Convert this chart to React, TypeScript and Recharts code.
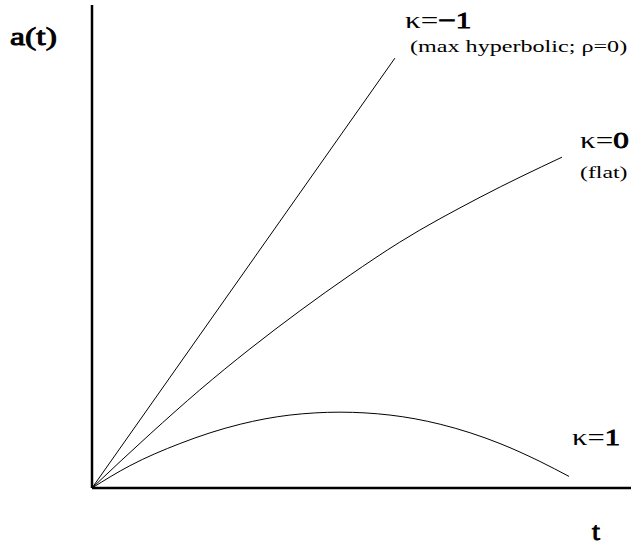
import { LineChart, Line, XAxis, YAxis, ReferenceLine } from "recharts";

// scale factor a(t) against time t for the three curvature cases
const openT = [0, 5.62];
const openA = [0, 8.9];

const flatT = [0, 1.08, 2.0, 2.93, 3.86, 4.79, 5.71, 7.2, 8.72];
const flatA = [0, 1.12, 2.03, 2.88, 3.67, 4.41, 5.09, 6.02, 6.85];

const closedT = [0, 0.7, 1.63, 2.75, 3.67, 4.6, 5.53, 6.46, 7.57, 8.31, 8.85];
const closedA = [0, 0.46, 0.92, 1.32, 1.51, 1.57, 1.51, 1.32, 0.92, 0.55, 0.24];

const toRows = (ts: number[], as: number[]) => ts.map((t, i) => ({ t, a: as[i] }));

const W = 631;
const H = 545;
const FONT = "Liberation Serif";

// heavy glyphs: regular face thickened with a stroke
const heavy = { stroke: "#000", strokeWidth: 0.9 };

// wide serif label, anchored at its baseline start and stretched sideways by sx
function Tag({ x, y, size, sx, children }: { x: number; y: number; size: number; sx: number; children: React.ReactNode }) {
  return (
    <text transform={`translate(${x},${y}) scale(${sx},1)`} fontFamily={FONT} fontSize={size} fill="#000">
      {children}
    </text>
  );
}

export default function App() {
  return (
    <div style={{ position: "absolute", left: 0, top: 0, width: W, height: H, background: "#fff" }}>
      <LineChart width={W} height={H} margin={{ top: 5, right: 0, bottom: 57, left: 92 }}>
        <XAxis type="number" dataKey="t" domain={[0, 10]} hide allowDataOverflow />
        <YAxis type="number" domain={[0, 10]} hide allowDataOverflow />
        <ReferenceLine x={0} stroke="#000" strokeWidth={2.5} />
        <ReferenceLine y={0} stroke="#000" strokeWidth={2.5} />
        <Line
          data={toRows(openT, openA)}
          dataKey="a"
          type="linear"
          stroke="#000"
          strokeWidth={1}
          dot={false}
          isAnimationActive={false}
        />
        <Line
          data={toRows(flatT, flatA)}
          dataKey="a"
          type="monotone"
          stroke="#000"
          strokeWidth={1}
          dot={false}
          isAnimationActive={false}
        />
        <Line
          data={toRows(closedT, closedA)}
          dataKey="a"
          type="monotone"
          stroke="#000"
          strokeWidth={1}
          dot={false}
          isAnimationActive={false}
        />
      </LineChart>
      <svg width={W} height={H} style={{ position: "absolute", left: 0, top: 0, pointerEvents: "none" }}>
        <Tag x={10} y={45} size={26} sx={1.3}>
          <tspan {...heavy}>a(t)</tspan>
        </Tag>
        <Tag x={405} y={28} size={23} sx={1.35}>
          κ=<tspan {...heavy}>−1</tspan>
        </Tag>
        <Tag x={410} y={52} size={17} sx={1.42}>
          (max hyperbolic; ρ=0)
        </Tag>
        <Tag x={580} y={148} size={23} sx={1.35}>
          κ=<tspan {...heavy}>0</tspan>
        </Tag>
        <Tag x={580} y={178} size={17} sx={1.4}>
          (flat)
        </Tag>
        <Tag x={572} y={445} size={23} sx={1.33}>
          κ=<tspan {...heavy}>1</tspan>
        </Tag>
        <Tag x={592} y={540} size={26} sx={1.1}>
          <tspan {...heavy}>t</tspan>
        </Tag>
      </svg>
    </div>
  );
}
